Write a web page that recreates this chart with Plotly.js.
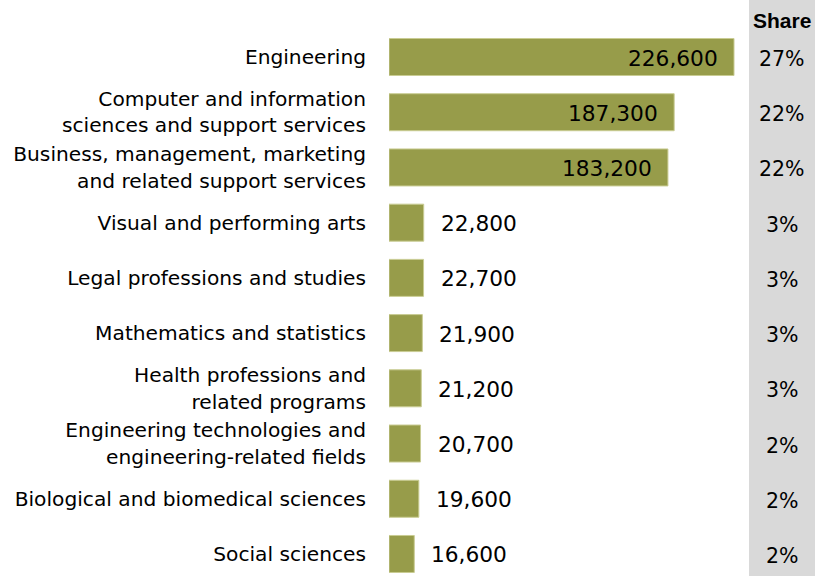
<!DOCTYPE html>
<html>
<head>
<meta charset="utf-8">
<script src="https://cdn.plot.ly/plotly-3.0.1.min.js"></script>
<style>html,body{margin:0;padding:0;background:#fff;}#chart{width:815px;height:576px;}</style>
</head>
<body>
<div id="chart"></div>
<script>
const categories = [
  "Engineering",
  "Computer and information<br>sciences and support services",
  "Business, management, marketing<br>and related support services",
  "Visual and performing arts",
  "Legal professions and studies",
  "Mathematics and statistics",
  "Health professions and<br>related programs",
  "Engineering technologies and<br>engineering-related fields",
  "Biological and biomedical sciences",
  "Social sciences"
];
const values = [226600, 187300, 183200, 22800, 22700, 21900, 21200, 20700, 19600, 16600];
const valueLabels = ["226,600", "187,300", "183,200", "22,800", "22,700", "21,900", "21,200", "20,700", "19,600", "16,600"];
const shares = ["27%", "22%", "22%", "3%", "3%", "3%", "3%", "2%", "2%", "2%"];
const shareHeader = "Share";

const barColor = "#979c4a";
const insideThreshold = 100000;
const wideFont = "DejaVu Sans, Verdana, sans-serif";

const annotations = [];
categories.forEach((c, i) => {
  const inside = values[i] > insideThreshold;
  annotations.push({
    x: values[i], y: c, xref: "x", yref: "y",
    text: valueLabels[i], showarrow: false,
    xanchor: inside ? "right" : "left",
    xshift: inside ? -14 : 15, yshift: -1,
    font: {family: wideFont, size: 21.7, color: "#000"}
  });
  annotations.push({
    x: 1.0917, y: c, xref: "paper", yref: "y",
    text: shares[i], showarrow: false, xanchor: "center", yshift: -2,
    font: {family: wideFont, size: 20.5, color: "#000"}
  });
});
annotations.push({
  x: 1.0917, y: 1.0, xref: "paper", yref: "paper", yanchor: "bottom", yshift: -4,
  text: "<b>" + shareHeader + "</b>", showarrow: false, xanchor: "center",
  font: {family: "Liberation Sans, Arial, sans-serif", size: 21, color: "#000"}
});

const trace = {
  type: "bar", orientation: "h",
  x: values, y: categories,
  marker: {color: barColor, line: {color: "#c9cc93", width: 1}},
  width: 0.67, hoverinfo: "none"
};

const layout = {
  width: 815, height: 576,
  margin: {l: 389, r: 66, t: 30, b: 0},
  paper_bgcolor: "#fff", plot_bgcolor: "rgba(0,0,0,0)",
  showlegend: false,
  xaxis: {range: [0, 236450], visible: false, fixedrange: true},
  yaxis: {
    type: "category", range: [9.399, -0.489],
    showgrid: false, zeroline: false, showline: false,
    ticks: "", ticklabelstandoff: 22,
    tickfont: {family: wideFont, size: 20.2, color: "#000"}
  },
  shapes: [{
    type: "rect", xref: "paper", yref: "paper",
    x0: 1.0, x1: 1.2, y0: -0.02, y1: 1.06,
    fillcolor: "#d9d9d9", line: {width: 0}, layer: "below"
  }],
  annotations: annotations
};

Plotly.newPlot("chart", [trace], layout, {displayModeBar: false, staticPlot: true});
</script>
</body>
</html>
